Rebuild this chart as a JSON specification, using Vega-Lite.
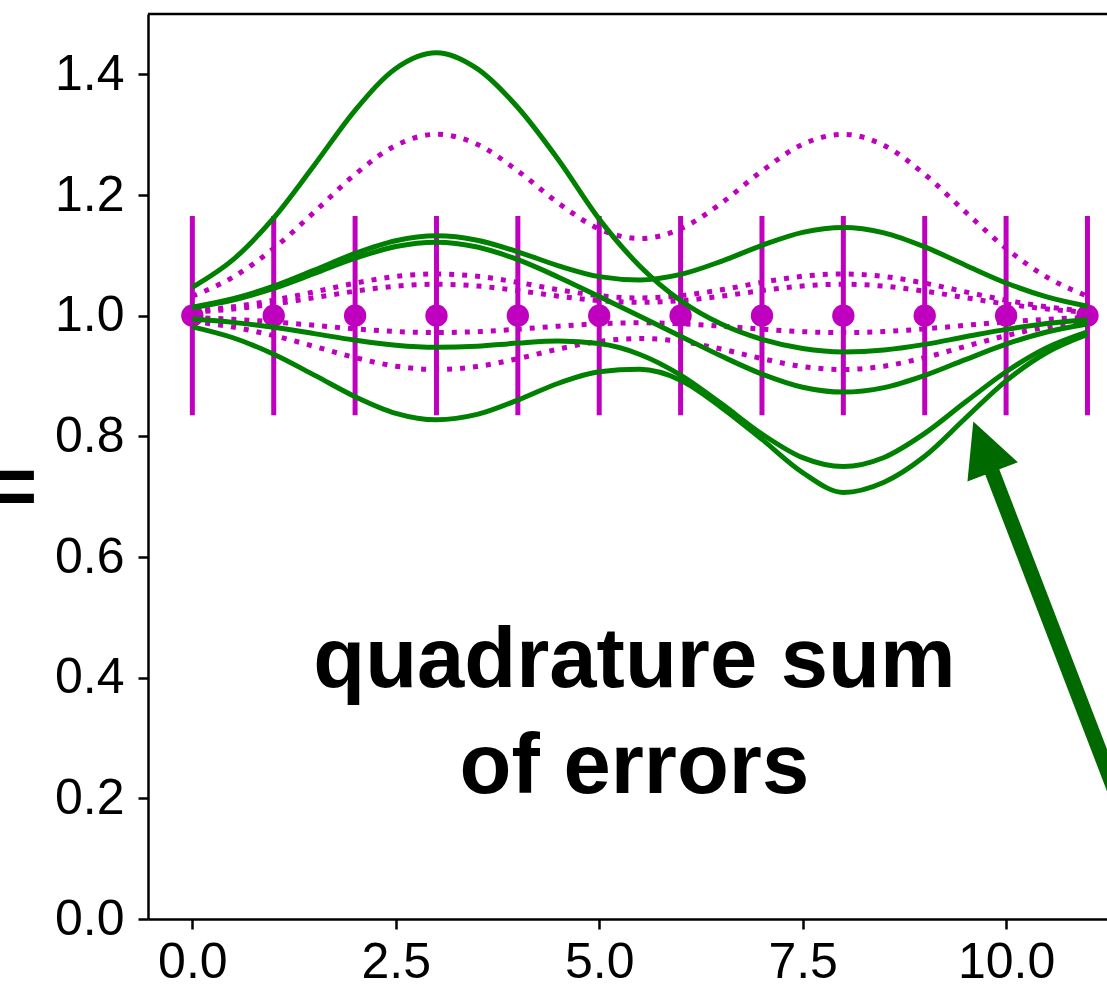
{
"$schema":"https://vega.github.io/schema/vega-lite/v6.json",
"width":959,"height":905,
"autosize":{"type":"none"},
"padding":{"left":148,"top":14,"right":0,"bottom":69},
"background":"white",
"config":{"view":{"stroke":null},"axis":{"grid":false,"domainColor":"black","domainWidth":2.5,"tickColor":"black","tickWidth":2.5,"tickSize":10,"labelFont":"Liberation Sans","labelFontSize":50,"labelColor":"black","labelOverlap":false,"labelFlush":false}},
"datasets":{
"pts":[{"x":0,"y":1,"lo":0.835,"hi":1.165},{"x":1,"y":1,"lo":0.835,"hi":1.165},{"x":2,"y":1,"lo":0.835,"hi":1.165},{"x":3,"y":1,"lo":0.835,"hi":1.165},{"x":4,"y":1,"lo":0.835,"hi":1.165},{"x":5,"y":1,"lo":0.835,"hi":1.165},{"x":6,"y":1,"lo":0.835,"hi":1.165},{"x":7,"y":1,"lo":0.835,"hi":1.165},{"x":8,"y":1,"lo":0.835,"hi":1.165},{"x":9,"y":1,"lo":0.835,"hi":1.165},{"x":10,"y":1,"lo":0.835,"hi":1.165},{"x":11,"y":1,"lo":0.835,"hi":1.165}],
"green":[
{"c":"g1","x":0,"y":1.047},{"c":"g1","x":0.5,"y":1.0928},{"c":"g1","x":1,"y":1.162},{"c":"g1","x":1.5,"y":1.2498},{"c":"g1","x":2,"y":1.3404},{"c":"g1","x":2.5,"y":1.4098},{"c":"g1","x":3,"y":1.4359},{"c":"g1","x":3.5,"y":1.4094},{"c":"g1","x":4,"y":1.345},{"c":"g1","x":4.5,"y":1.258},{"c":"g1","x":5,"y":1.16},{"c":"g1","x":5.5,"y":1.082},{"c":"g1","x":6,"y":1.025},{"c":"g1","x":6.5,"y":0.986},{"c":"g1","x":7,"y":0.9607},{"c":"g1","x":7.5,"y":0.9456},{"c":"g1","x":8,"y":0.9399},{"c":"g1","x":8.5,"y":0.943},{"c":"g1","x":9,"y":0.9524},{"c":"g1","x":9.5,"y":0.965},{"c":"g1","x":10,"y":0.9773},{"c":"g1","x":10.5,"y":0.987},{"c":"g1","x":11,"y":0.9934},
{"c":"g2","x":0,"y":1.0142},{"c":"g2","x":0.5,"y":1.0281},{"c":"g2","x":1,"y":1.049},{"c":"g2","x":1.5,"y":1.0756},{"c":"g2","x":2,"y":1.1031},{"c":"g2","x":2.5,"y":1.1242},{"c":"g2","x":3,"y":1.1323},{"c":"g2","x":3.5,"y":1.1251},{"c":"g2","x":4,"y":1.1059},{"c":"g2","x":4.5,"y":1.0826},{"c":"g2","x":5,"y":1.0647},{"c":"g2","x":5.5,"y":1.0592},{"c":"g2","x":6,"y":1.0684},{"c":"g2","x":6.5,"y":1.0901},{"c":"g2","x":7,"y":1.1165},{"c":"g2","x":7.5,"y":1.1381},{"c":"g2","x":8,"y":1.1463},{"c":"g2","x":8.5,"y":1.1373},{"c":"g2","x":9,"y":1.114},{"c":"g2","x":9.5,"y":1.0837},{"c":"g2","x":10,"y":1.0542},{"c":"g2","x":10.5,"y":1.0311},{"c":"g2","x":11,"y":1.0157},
{"c":"g3","x":0,"y":1.0132},{"c":"g3","x":0.5,"y":1.026},{"c":"g3","x":1,"y":1.0453},{"c":"g3","x":1.5,"y":1.0699},{"c":"g3","x":2,"y":1.0952},{"c":"g3","x":2.5,"y":1.1146},{"c":"g3","x":3,"y":1.1217},{"c":"g3","x":3.5,"y":1.1138},{"c":"g3","x":4,"y":1.0928},{"c":"g3","x":4.5,"y":1.0638},{"c":"g3","x":5,"y":1.0316},{"c":"g3","x":5.5,"y":0.999},{"c":"g3","x":6,"y":0.966},{"c":"g3","x":6.5,"y":0.9331},{"c":"g3","x":7,"y":0.9032},{"c":"g3","x":7.5,"y":0.8814},{"c":"g3","x":8,"y":0.8733},{"c":"g3","x":8.5,"y":0.8807},{"c":"g3","x":9,"y":0.9009},{"c":"g3","x":9.5,"y":0.9272},{"c":"g3","x":10,"y":0.9528},{"c":"g3","x":10.5,"y":0.973},{"c":"g3","x":11,"y":0.9863},
{"c":"g4","x":0,"y":0.9944},{"c":"g4","x":0.5,"y":0.9889},{"c":"g4","x":1,"y":0.9807},{"c":"g4","x":1.5,"y":0.9702},{"c":"g4","x":2,"y":0.9594},{"c":"g4","x":2.5,"y":0.9509},{"c":"g4","x":3,"y":0.9475},{"c":"g4","x":3.5,"y":0.9494},{"c":"g4","x":4,"y":0.9546},{"c":"g4","x":4.5,"y":0.9581},{"c":"g4","x":5,"y":0.9537},{"c":"g4","x":5.5,"y":0.9357},{"c":"g4","x":6,"y":0.9015},{"c":"g4","x":6.5,"y":0.8542},{"c":"g4","x":7,"y":0.8038},{"c":"g4","x":7.5,"y":0.7647},{"c":"g4","x":8,"y":0.7499},{"c":"g4","x":8.5,"y":0.765},{"c":"g4","x":9,"y":0.8048},{"c":"g4","x":9.5,"y":0.8568},{"c":"g4","x":10,"y":0.9071},{"c":"g4","x":10.5,"y":0.9468},{"c":"g4","x":11,"y":0.9731},
{"c":"g5","x":0,"y":0.9815},{"c":"g5","x":0.5,"y":0.9634},{"c":"g5","x":1,"y":0.9361},{"c":"g5","x":1.5,"y":0.9014},{"c":"g5","x":2,"y":0.8657},{"c":"g5","x":2.5,"y":0.8381},{"c":"g5","x":3,"y":0.8274},{"c":"g5","x":3.5,"y":0.8363},{"c":"g5","x":4,"y":0.8601},{"c":"g5","x":4.5,"y":0.888},{"c":"g5","x":5,"y":0.907},{"c":"g5","x":5.5,"y":0.911},{"c":"g5","x":6,"y":0.893},{"c":"g5","x":6.5,"y":0.848},{"c":"g5","x":7,"y":0.795},{"c":"g5","x":7.5,"y":0.74},{"c":"g5","x":8,"y":0.707},{"c":"g5","x":8.5,"y":0.724},{"c":"g5","x":9,"y":0.767},{"c":"g5","x":9.5,"y":0.83},{"c":"g5","x":10,"y":0.892},{"c":"g5","x":10.5,"y":0.939},{"c":"g5","x":11,"y":0.969}],
"magenta":[
{"c":"m1","x":0,"y":1.0323},{"c":"m1","x":0.5,"y":1.0639},{"c":"m1","x":1,"y":1.1115},{"c":"m1","x":1.5,"y":1.1719},{"c":"m1","x":2,"y":1.2342},{"c":"m1","x":2.5,"y":1.2822},{"c":"m1","x":3,"y":1.3006},{"c":"m1","x":3.5,"y":1.284},{"c":"m1","x":4,"y":1.2399},{"c":"m1","x":4.5,"y":1.1864},{"c":"m1","x":5,"y":1.1438},{"c":"m1","x":5.5,"y":1.1278},{"c":"m1","x":6,"y":1.1438},{"c":"m1","x":6.5,"y":1.1864},{"c":"m1","x":7,"y":1.2399},{"c":"m1","x":7.5,"y":1.284},{"c":"m1","x":8,"y":1.3006},{"c":"m1","x":8.5,"y":1.2822},{"c":"m1","x":9,"y":1.2342},{"c":"m1","x":9.5,"y":1.1719},{"c":"m1","x":10,"y":1.1115},{"c":"m1","x":10.5,"y":1.0639},{"c":"m1","x":11,"y":1.0323},
{"c":"m2","x":0,"y":1.0074},{"c":"m2","x":0.5,"y":1.0147},{"c":"m2","x":1,"y":1.0256},{"c":"m2","x":1.5,"y":1.0395},{"c":"m2","x":2,"y":1.0539},{"c":"m2","x":2.5,"y":1.0649},{"c":"m2","x":3,"y":1.0691},{"c":"m2","x":3.5,"y":1.0653},{"c":"m2","x":4,"y":1.0552},{"c":"m2","x":4.5,"y":1.0429},{"c":"m2","x":5,"y":1.0331},{"c":"m2","x":5.5,"y":1.0294},{"c":"m2","x":6,"y":1.0331},{"c":"m2","x":6.5,"y":1.0429},{"c":"m2","x":7,"y":1.0552},{"c":"m2","x":7.5,"y":1.0653},{"c":"m2","x":8,"y":1.0691},{"c":"m2","x":8.5,"y":1.0649},{"c":"m2","x":9,"y":1.0539},{"c":"m2","x":9.5,"y":1.0395},{"c":"m2","x":10,"y":1.0256},{"c":"m2","x":10.5,"y":1.0147},{"c":"m2","x":11,"y":1.0074},
{"c":"m3","x":0,"y":1.0056},{"c":"m3","x":0.5,"y":1.0111},{"c":"m3","x":1,"y":1.0193},{"c":"m3","x":1.5,"y":1.0298},{"c":"m3","x":2,"y":1.0406},{"c":"m3","x":2.5,"y":1.0489},{"c":"m3","x":3,"y":1.0521},{"c":"m3","x":3.5,"y":1.0492},{"c":"m3","x":4,"y":1.0416},{"c":"m3","x":4.5,"y":1.0323},{"c":"m3","x":5,"y":1.0249},{"c":"m3","x":5.5,"y":1.0221},{"c":"m3","x":6,"y":1.0249},{"c":"m3","x":6.5,"y":1.0323},{"c":"m3","x":7,"y":1.0416},{"c":"m3","x":7.5,"y":1.0492},{"c":"m3","x":8,"y":1.0521},{"c":"m3","x":8.5,"y":1.0489},{"c":"m3","x":9,"y":1.0406},{"c":"m3","x":9.5,"y":1.0298},{"c":"m3","x":10,"y":1.0193},{"c":"m3","x":10.5,"y":1.0111},{"c":"m3","x":11,"y":1.0056},
{"c":"m4","x":0,"y":0.997},{"c":"m4","x":0.5,"y":0.994},{"c":"m4","x":1,"y":0.9896},{"c":"m4","x":1.5,"y":0.984},{"c":"m4","x":2,"y":0.9781},{"c":"m4","x":2.5,"y":0.9737},{"c":"m4","x":3,"y":0.9719},{"c":"m4","x":3.5,"y":0.9735},{"c":"m4","x":4,"y":0.9776},{"c":"m4","x":4.5,"y":0.9826},{"c":"m4","x":5,"y":0.9866},{"c":"m4","x":5.5,"y":0.9881},{"c":"m4","x":6,"y":0.9866},{"c":"m4","x":6.5,"y":0.9826},{"c":"m4","x":7,"y":0.9776},{"c":"m4","x":7.5,"y":0.9735},{"c":"m4","x":8,"y":0.9719},{"c":"m4","x":8.5,"y":0.9737},{"c":"m4","x":9,"y":0.9781},{"c":"m4","x":9.5,"y":0.984},{"c":"m4","x":10,"y":0.9896},{"c":"m4","x":10.5,"y":0.994},{"c":"m4","x":11,"y":0.997},
{"c":"m5","x":0,"y":0.9904},{"c":"m5","x":0.5,"y":0.9811},{"c":"m5","x":1,"y":0.9669},{"c":"m5","x":1.5,"y":0.949},{"c":"m5","x":2,"y":0.9305},{"c":"m5","x":2.5,"y":0.9163},{"c":"m5","x":3,"y":0.9108},{"c":"m5","x":3.5,"y":0.9157},{"c":"m5","x":4,"y":0.9288},{"c":"m5","x":4.5,"y":0.9447},{"c":"m5","x":5,"y":0.9573},{"c":"m5","x":5.5,"y":0.9621},{"c":"m5","x":6,"y":0.9573},{"c":"m5","x":6.5,"y":0.9447},{"c":"m5","x":7,"y":0.9288},{"c":"m5","x":7.5,"y":0.9157},{"c":"m5","x":8,"y":0.9108},{"c":"m5","x":8.5,"y":0.9163},{"c":"m5","x":9,"y":0.9305},{"c":"m5","x":9.5,"y":0.949},{"c":"m5","x":10,"y":0.9669},{"c":"m5","x":10.5,"y":0.9811},{"c":"m5","x":11,"y":0.9904}],
"labels":[{"label":"quadrature sum","x":5.432,"y":0.385},{"label":"of errors","x":5.432,"y":0.209}],
"arrow":[{"x":11.521,"y":0.148,"xe":9.77,"ye":0.762}],
"head":[{"x":9.716,"y":0.7828}]
},
"layer":[
{"data":{"name":"pts"},"mark":{"type":"rule","color":"#bf00bf","strokeWidth":5},
 "encoding":{"x":{"field":"x","type":"quantitative","scale":{"domain":[-0.545,11.24],"nice":false,"zero":false},"axis":{"values":[0,2.5,5,7.5,10],"format":".1f","title":null,"labelPadding":8}},
 "y":{"field":"lo","type":"quantitative","scale":{"domain":[0,1.5],"nice":false,"zero":false},"axis":{"values":[0,0.2,0.4,0.6,0.8,1,1.2,1.4],"format":".1f","title":"=","titleFont":"Liberation Sans","titleFontSize":85,"titleFontWeight":"bold","titleColor":"black","titleAngle":0,"titleAlign":"right","titleBaseline":"alphabetic","titleX":-111,"titleY":500,"labelPadding":14}},
 "y2":{"field":"hi"}}},
{"data":{"name":"pts"},"mark":{"type":"point","shape":"circle","filled":true,"opacity":1,"color":"#bf00bf","size":500},
 "encoding":{"x":{"field":"x","type":"quantitative"},"y":{"field":"y","type":"quantitative"}}},
{"data":{"name":"magenta"},"mark":{"type":"line","color":"#bf00bf","strokeWidth":5,"strokeDash":[5,8],"interpolate":"monotone"},
 "encoding":{"x":{"field":"x","type":"quantitative"},"y":{"field":"y","type":"quantitative"},"detail":{"field":"c"}}},
{"data":{"name":"green"},"mark":{"type":"line","color":"#008000","strokeWidth":5,"interpolate":"monotone"},
 "encoding":{"x":{"field":"x","type":"quantitative"},"y":{"field":"y","type":"quantitative"},"detail":{"field":"c"}}},
{"data":{"values":[{}]},"mark":{"type":"rule","color":"black","strokeWidth":2.5},
 "encoding":{"y":{"datum":1.5,"type":"quantitative"}}},
{"data":{"name":"labels"},"mark":{"type":"text","font":"Liberation Sans","fontSize":85,"fontWeight":"bold","align":"center","baseline":"alphabetic","color":"black"},
 "encoding":{"x":{"field":"x","type":"quantitative"},"y":{"field":"y","type":"quantitative"},"text":{"field":"label"}}},
{"data":{"name":"arrow"},"mark":{"type":"rule","color":"#006a00","strokeWidth":15,"strokeCap":"butt"},
 "encoding":{"x":{"field":"x","type":"quantitative"},"y":{"field":"y","type":"quantitative"},"x2":{"field":"xe"},"y2":{"field":"ye"}}},
{"data":{"name":"head"},"mark":{"type":"point","shape":"M0,-1L1,1L-1,1Z","filled":true,"opacity":1,"color":"#006a00","size":2916,"angle":339,"strokeWidth":0},
 "encoding":{"x":{"field":"x","type":"quantitative"},"y":{"field":"y","type":"quantitative"}}}
]
}
